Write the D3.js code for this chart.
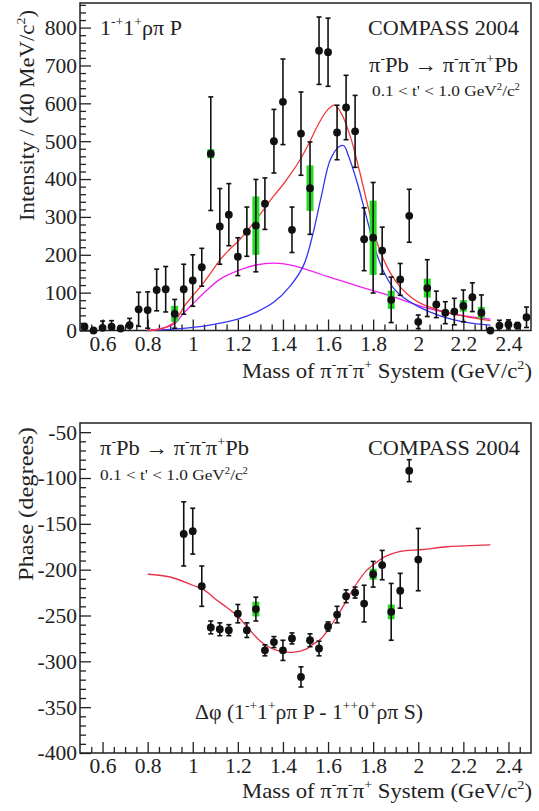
<!DOCTYPE html>
<html><head><meta charset="utf-8">
<script src="https://cdn.jsdelivr.net/npm/d3@7"></script>
<style>
body{margin:0;background:#fff}
svg{display:block}
text{font-family:"Liberation Serif","DejaVu Serif","Times New Roman",serif;fill:#222}
</style>
</head><body>
<svg id="c" width="539" height="811"></svg>
<script>
// ---------- DATA ----------
const massBins = [0.52,0.56,0.60,0.64,0.68,0.72,0.76,0.80,0.84,0.88,0.92,0.96,1.00,1.04,1.08,1.12,1.16,1.20,1.24,1.28,1.32,1.36,1.40,1.44,1.48,1.52,1.56,1.60,1.64,1.68,1.72,1.76,1.80,1.84,1.88,1.92,1.96,2.00,2.04,2.08,2.12,2.16,2.20,2.24,2.28,2.32,2.36,2.40,2.44,2.48];
const intensity = [10,0,7,10,5,14,56,54,107,109,44,109,132,167,467,275,306,195,261,277,335,500,604,266,520,376,739,735,523,589,526,241,245,211,81,135,303,23,112,69,47,50,65,88,47,0,13,16,13,35];
const intensityErr = [8,5,18,16,8,18,45,48,55,60,38,66,68,50,150,100,82,50,65,122,68,84,113,60,110,122,89,90,72,85,95,83,146,62,60,42,70,18,75,35,29,35,42,38,47,3,14,12,8,27];
const sysMass = [0.92,1.08,1.28,1.52,1.80,1.88,2.04,2.20,2.28];
const sysErr = [21,12,77,60,98,24,25,15,15];

const totalMass = [0.80,0.84,0.88,0.92,0.96,1.00,1.04,1.08,1.12,1.16,1.20,1.24,1.28,1.32,1.36,1.40,1.44,1.48,1.52,1.56,1.60,1.63,1.66,1.70,1.74,1.78,1.82,1.86,1.90,1.95,2.00,2.10,2.20,2.32];
const totalFit = [0,2,8,23,62,92,120,152,186,212,235,262,292,324,356,385,418,455,500,548,584,595,572,510,420,320,228,170,130,97,75,52,38,26];
const bwMass = [0.80,0.90,1.00,1.10,1.20,1.28,1.36,1.43,1.49,1.53,1.57,1.61,1.65,1.67,1.69,1.73,1.77,1.81,1.85,1.89,1.93,2.00,2.10,2.20,2.32];
const bwFit = [0,3,8,17,30,48,75,116,170,248,354,451,486,488,462,389,300,213,151,112,89,63,38,23,14];
const bkgMass = [0.80,0.84,0.88,0.92,0.96,1.00,1.06,1.12,1.20,1.28,1.36,1.44,1.52,1.60,1.74,1.89,2.04,2.18,2.32];
const bkgFit = [0,3,8,18,46,70,105,135,158,173,178,172,158,142,116,89,59,41,30];

const phaseMass = [0.96,1.00,1.04,1.08,1.12,1.16,1.20,1.24,1.28,1.32,1.36,1.40,1.44,1.48,1.52,1.56,1.60,1.64,1.68,1.72,1.76,1.80,1.84,1.88,1.92,1.96,2.00];
const phase = [-161,-158,-218,-263,-265,-266,-248,-266,-243,-288,-279,-288,-275,-317,-277,-286,-262,-249,-229,-225,-237,-205,-195,-246,-223,-92,-189];
const phaseErr = [35,25,22,7,7,6,10,8,13,6,6,11,6,11,7,8,5,9,7,6,20,14,16,31,19,12,34];
const phaseSysMass = [1.28,1.80,1.88];
const phaseSysErr = [8,6,8];
const phaseFitMass = [0.80,0.90,1.00,1.05,1.10,1.15,1.20,1.25,1.30,1.35,1.40,1.45,1.50,1.53,1.57,1.61,1.65,1.69,1.73,1.77,1.81,1.85,1.92,2.02,2.13,2.32];
const phaseFit = [-205,-208,-217,-222,-232,-241,-251,-265,-278,-286,-289.5,-290,-287,-282,-275,-262,-247,-230,-214,-201,-193,-186,-180,-178,-175,-173];

const massTicks = [0.6,0.8,1.0,1.2,1.4,1.6,1.8,2.0,2.2,2.4];
const massTickLabels = ["0.6","0.8","1","1.2","1.4","1.6","1.8","2","2.2","2.4"];
const intensityTicks = [0,100,200,300,400,500,600,700,800];
const phaseTicks = [-400,-350,-300,-250,-200,-150,-100,-50];

// ---------- DRAW ----------
const svg = d3.select('#c');
svg.append('rect').attr('width',539).attr('height',811).attr('fill','#fff');
const FS = 21.5;

const x = d3.scaleLinear().domain([0.5,2.5]).range([80,531]);
const yTop = d3.scaleLinear().domain([0,865]).range([330.5,3]);
const yBot = d3.scaleLinear().domain([-400,-40]).range([753,423]);

function rich(g, px, py, parts, size, anchor, len, transform){
  const t = g.append('text').attr('x',px).attr('y',py).attr('font-size',size)
    .attr('text-anchor',anchor||'start');
  if (transform) t.attr('transform',transform);
  if (len) t.attr('textLength',len).attr('lengthAdjust','spacingAndGlyphs');
  let shifted=false;
  parts.forEach(p=>{
    const ts=t.append('tspan').text(p[0]);
    if(p[1]===1){ts.attr('font-size',size*0.62); if(!shifted){ts.attr('dy',-size*0.42);} shifted=true;}
    else { if(shifted) ts.attr('dy',size*0.42); shifted=false; }
  });
  return t;
}

function panel(y, yTicks, minorStep){
  const g = svg.append('g');
  const [y0,y1] = y.range();
  const minorX = d3.range(0.55,2.5,0.05).filter(v=>Math.abs(Math.round(v*5)-v*5)>1e-6);
  const ax = g.append('g').attr('transform',`translate(0,${y0})`)
    .call(d3.axisBottom(x).tickValues(massTicks).tickSize(-11).tickPadding(5)
      .tickFormat((d,i)=>massTickLabels[i]));
  ax.select('.domain').remove();
  ax.selectAll('text').attr('font-size',FS).style('font-family','"Liberation Serif",serif').attr('fill','#333');
  ax.selectAll('line').attr('stroke','#222').attr('stroke-width',1.3);
  const axm = g.append('g').attr('transform',`translate(0,${y0})`)
    .call(d3.axisBottom(x).tickValues(minorX).tickSize(-6).tickFormat(''));
  axm.select('.domain').remove();
  axm.selectAll('line').attr('stroke','#222').attr('stroke-width',1.3);
  const dom = y.domain();
  const minorY = d3.range(dom[0], dom[1], minorStep).filter(v=>!yTicks.includes(v));
  const ay = g.append('g').attr('transform','translate(80,0)')
    .call(d3.axisLeft(y).tickValues(yTicks).tickSize(-11).tickPadding(3).tickFormat(d=>String(d)));
  ay.select('.domain').remove();
  ay.selectAll('text').attr('font-size',FS).style('font-family','"Liberation Serif",serif').attr('fill','#333');
  ay.selectAll('line').attr('stroke','#222').attr('stroke-width',1.3);
  const aym = g.append('g').attr('transform','translate(80,0)')
    .call(d3.axisLeft(y).tickValues(minorY).tickSize(-6).tickFormat(''));
  aym.select('.domain').remove();
  aym.selectAll('line').attr('stroke','#222').attr('stroke-width',1.3);
  g.append('rect').attr('x',80).attr('y',y1).attr('width',451).attr('height',y0-y1)
    .attr('fill','none').attr('stroke','#222').attr('stroke-width',1.5);
  return g;
}

function curve(g, y, xs, ys, color){
  const line = d3.line().x(d=>x(d[0])).y(d=>y(d[1])).curve(d3.curveCatmullRom.alpha(0.5));
  g.append('path').datum(xs.map((m,i)=>[m,ys[i]])).attr('d',line)
    .attr('fill','none').attr('stroke',color).attr('stroke-width',1.3);
}

function points(g, y, xs, vs, es, sysX, sysE){
  const lookup = new Map(xs.map((m,i)=>[m.toFixed(2), vs[i]]));
  g.selectAll(null).data(sysX.map((m,i)=>[m, lookup.get(m.toFixed(2)), sysE[i]])).enter()
    .append('rect').attr('x',d=>x(d[0])-3.5).attr('width',7)
    .attr('y',d=>y(d[1]+d[2])).attr('height',d=>y(d[1]-d[2])-y(d[1]+d[2]))
    .attr('fill','#22dd22');
  const data = xs.map((m,i)=>[m,vs[i],es[i]]);
  const eb = g.append('g').attr('stroke','#111').attr('stroke-width',1.6);
  data.forEach(d=>{
    const cx=x(d[0]), top=y(d[1]+d[2]), bot=y(Math.max(d[1]-d[2], y.domain()[0]));
    eb.append('line').attr('x1',cx).attr('x2',cx).attr('y1',top).attr('y2',bot);
    eb.append('line').attr('x1',cx-2.5).attr('x2',cx+2.5).attr('y1',top).attr('y2',top);
    if (d[1]-d[2] > y.domain()[0]) eb.append('line').attr('x1',cx-2.5).attr('x2',cx+2.5).attr('y1',bot).attr('y2',bot);
  });
  g.selectAll(null).data(data).enter().append('circle')
    .attr('cx',d=>x(d[0])).attr('cy',d=>y(d[1])).attr('r',3.9).attr('fill','#111');
}

const reaction = [['π'],['-',1],['Pb → π'],['-',1],['π'],['-',1],['π'],['+',1],['Pb']];
const tcut = [['0.1 < t\' < 1.0 GeV'],['2',1],['/c'],['2',1]];
const xTitle = [['Mass of π'],['-',1],['π'],['-',1],['π'],['+',1],[' System (GeV/c'],['2',1],[')']];

// ---- top panel ----
const gt = panel(yTop, intensityTicks, 20);
curve(gt, yTop, bkgMass, bkgFit, '#f020f0');
curve(gt, yTop, bwMass, bwFit, '#3535f0');
curve(gt, yTop, totalMass, totalFit, '#f03a3a');
points(gt, yTop, massBins, intensity, intensityErr, sysMass, sysErr);

rich(svg, 100, 35, [['1'],['-+',1],['1'],['+',1],['ρπ P']], FS, 'start', 82);
rich(svg, 519, 35, [['COMPASS 2004']], FS, 'end', 151);
rich(svg, 518, 72, reaction, FS, 'end', 149);
rich(svg, 520, 96, tcut, 15, 'end', 148);
rich(svg, 0, 0, [['Intensity / (40 MeV/c'],['2',1],[')']], FS, 'end', 211, 'translate(34,10) rotate(-90)');
rich(svg, 532, 378, xTitle, FS, 'end', 290);

// ---- bottom panel ----
const gb = panel(yBot, phaseTicks, 10);
curve(gb, yBot, phaseFitMass, phaseFit, '#e8304a');
points(gb, yBot, phaseMass, phase, phaseErr, phaseSysMass, phaseSysErr);

rich(svg, 100, 455, reaction, FS, 'start', 149);
rich(svg, 100, 480, tcut, 15, 'start', 148);
rich(svg, 520, 455, [['COMPASS 2004']], FS, 'end', 152);
rich(svg, 195, 719, [['Δφ (1'],['-+',1],['1'],['+',1],['ρπ P - 1'],['++',1],['0'],['+',1],['ρπ S)']], FS, 'start', 228);
rich(svg, 0, 0, [['Phase (degrees)']], FS, 'end', 154, 'translate(33,427) rotate(-90)');
rich(svg, 532, 798, xTitle, FS, 'end', 290);
</script>
</body></html>
